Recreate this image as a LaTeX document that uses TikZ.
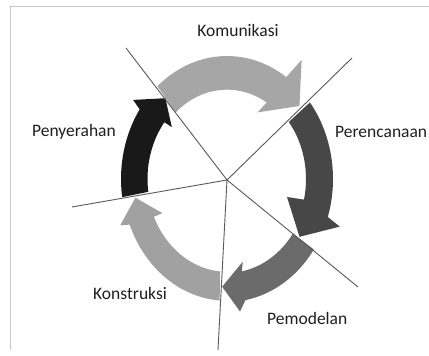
\documentclass[tikz,border=0pt]{standalone}
\usepackage{fontspec}
\setmainfont{Carlito}
\begin{document}
\begin{tikzpicture}[x=1pt,y=1pt,
  lbl/.style={inner sep=0pt, text=black!88, font=\fontsize{17.5}{21}\selectfont},
  spoke/.style={draw=black!65, line width=0.9pt},
  frameline/.style={draw=black!22, line width=1pt}]
\useasboundingbox (0,0) rectangle (429,356);
\fill[white] (0,0) rectangle (429,356);
% frame
\coordinate (f1) at (10.5,6);
\coordinate (f2) at (10.5,349);
\coordinate (f3) at (429,349);
\draw[frameline] (f1) -- (f2) -- (f3);
% arrows
\begin{scope}[shift={(227,177)}, yscale=1.16]
  % Komunikasi
  \fill[black!35] (131:106) arc[start angle=131, end angle=56, radius=106]
     -- (54:127) -- (41:96) -- (62:65) -- (59:77)
     arc[start angle=59, end angle=132, radius=77] -- cycle;
  % Perencanaan
  \fill[black!72] (38.5:106) arc[start angle=38.5, end angle=-18, radius=106]
     -- (-20:120) -- (-34.5:88) -- (-14.5:62) -- (-13:79)
     arc[start angle=-13, end angle=38.5, radius=79] -- cycle;
  % Pemodelan
  \fill[black!58] (-35:106) arc[start angle=-35, end angle=-80, radius=106]
     -- (-83.5:115) -- (-93:93) -- (-77.5:73) -- (-79.5:81)
     arc[start angle=-79.5, end angle=-35.5, radius=81] -- cycle;
  % Konstruksi
  \fill[black!37] (266:105) arc[start angle=266, end angle=202, radius=105]
     -- (200.5:114) -- (190:93) -- (204.5:71) -- (204:80)
     arc[start angle=204, end angle=265, radius=80] -- cycle;
  % Penyerahan
  \fill[black!90] (188.5:106) arc[start angle=188.5, end angle=145.5, radius=106]
     -- (144:116) -- (131.5:93) -- (141:71) -- (142:79.5)
     arc[start angle=142, end angle=188, radius=79.5] -- cycle;
\end{scope}
% spokes
\coordinate (hub) at (227,176);
\coordinate (sUL) at (126,308);
\coordinate (sUR) at (352,298);
\coordinate (sL) at (72,149);
\coordinate (sB) at (218,6);
\coordinate (sLR) at (358,69);
\draw[spoke] (hub) -- (sUL);
\draw[spoke] (hub) -- (sUR);
\draw[spoke] (hub) -- (sL);
\draw[spoke] (hub) -- (sB);
\draw[spoke] (hub) -- (sLR);
% labels
\node[lbl] (kom) at (238,326) {Komunikasi};
\node[lbl, anchor=west] (per) at (335,224) {Perencanaan};
\node[lbl, anchor=west] (pen) at (32,224) {Penyerahan};
\node[lbl, anchor=west] (kon) at (93,63) {Konstruksi};
\node[lbl, anchor=west] (pem) at (267,38) {Pemodelan};
\end{tikzpicture}
\end{document}
